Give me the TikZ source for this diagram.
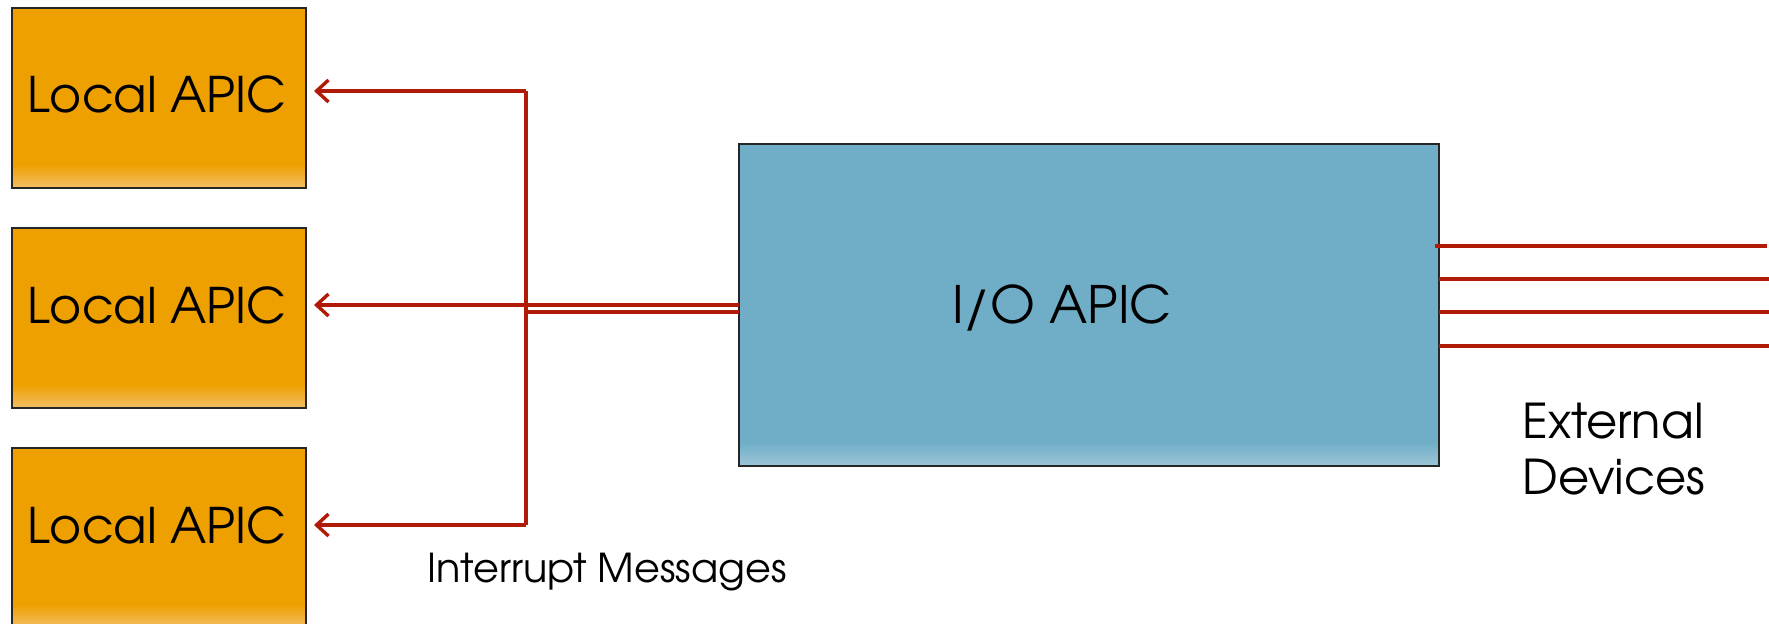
\documentclass[tikz,border=0pt]{standalone}
\usepackage{fontspec}
\setmainfont{TeX Gyre Adventor}
\usetikzlibrary{arrows.meta}
\definecolor{apicorange}{RGB}{238,160,0}
\definecolor{apicorangelight}{RGB}{242,192,105}
\definecolor{apicblue}{RGB}{112,174,200}
\definecolor{apicbluelight}{RGB}{158,198,216}
\definecolor{wirered}{RGB}{176,26,6}
\tikzset{
  boxbase/.style={draw=black!85, line width=0.9pt, inner sep=0pt, outer sep=0pt},
  localbox/.style={boxbase, fill=apicorange, minimum width=147pt, minimum height=90pt,
    path picture={\foreach \k in {1,...,12}{
      \pgfmathsetmacro{\pc}{\k*100/12}
      \fill[apicorangelight!\pc!apicorange]
        ([yshift=12pt-\k*1pt]path picture bounding box.south west) rectangle
        ([yshift=11pt-\k*1pt]path picture bounding box.south east);}}},
  iobox/.style={boxbase, fill=apicblue, minimum width=350pt, minimum height=161pt,
    path picture={\foreach \k in {1,...,12}{
      \pgfmathsetmacro{\pc}{\k*100/12}
      \fill[apicbluelight!\pc!apicblue]
        ([yshift=12pt-\k*1pt]path picture bounding box.south west) rectangle
        ([yshift=11pt-\k*1pt]path picture bounding box.south east);}}},
  bigtext/.style={inner sep=0pt, font=\fontsize{24.5}{29}\selectfont},
  iotext/.style={inner sep=0pt, font=\fontsize{25.8}{30}\selectfont},
  midtext/.style={inner sep=0pt, font=\fontsize{24}{28}\selectfont, align=left},
  smalltext/.style={inner sep=0pt, font=\fontsize{19.9}{23}\selectfont},
  wire/.style={draw=wirered, line width=1.7pt},
  arrowwire/.style={wire, -{Straight Barb[length=6pt,width=11pt,line width=1.7pt]}},
}
\begin{document}
\begin{tikzpicture}[x=0.5pt,y=-0.5pt]
\useasboundingbox (0,0) rectangle (1769,623);
% boxes
\node[localbox] (l1) at (159,98) {};
\node[localbox] (l2) at (159,318) {};
\node[localbox] (l3) at (159,538) {};
\node[iobox] (io) at (1089,305) {};
% texts
\node[bigtext, anchor=base] (t1) at (157,112) {Local APIC};
\node[bigtext, anchor=base] (t2) at (157,323) {Local APIC};
\node[bigtext, anchor=base] (t3) at (157,543) {Local APIC};
\node[iotext, anchor=base] (tio) at (1062,323) {I/O APIC};
\node[midtext, anchor=base west] (ext) at (1522,494) {External\\Devices};
\node[smalltext, anchor=base west] (msg) at (427,582) {Interrupt Messages};
% bus coordinates
\coordinate (btop) at (526,91);
\coordinate (bmid) at (526,305);
\coordinate (bbot) at (526,525);
\coordinate (bmid2) at (524,312);
% red wires
\draw[wire] (btop) -- (bbot);
\draw[arrowwire] (btop) -- ([xshift=4pt]l1.east |- btop);
\draw[arrowwire] (io.west |- bmid) -- ([xshift=4pt]l2.east |- bmid);
\draw[wire] (io.west |- bmid2) -- (bmid2);
\draw[arrowwire] (bbot) -- ([xshift=4pt]l3.east |- bbot);
% external lines
\coordinate (e1) at (1767,246);
\coordinate (e2) at (1769,279);
\coordinate (e3) at (1769,312);
\coordinate (e4) at (1769,346);
\draw[wire] ([xshift=-2pt]io.east |- e1) -- (e1);
\draw[wire] (io.east |- e2) -- (e2);
\draw[wire] (io.east |- e3) -- (e3);
\draw[wire] (io.east |- e4) -- (e4);
\end{tikzpicture}
\end{document}
